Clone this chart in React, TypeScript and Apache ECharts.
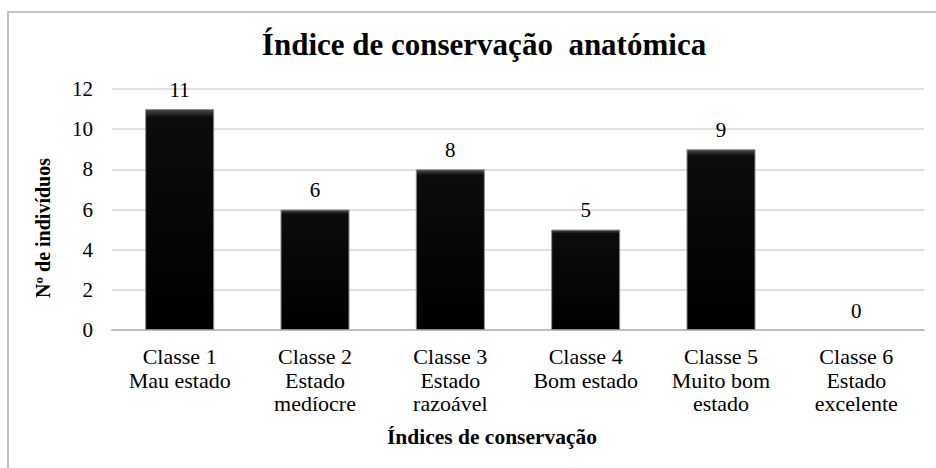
import React, { useEffect, useRef } from "react";
import * as echarts from "echarts";

const categories = [
  "Classe 1\nMau estado",
  "Classe 2\nEstado\nmedíocre",
  "Classe 3\nEstado\nrazoável",
  "Classe 4\nBom estado",
  "Classe 5\nMuito bom\nestado",
  "Classe 6\nEstado\nexcelente",
];
const values = [11, 6, 8, 5, 9, 0];
const titleText = "Índice de conservação  anatómica";
const yName = "Nº de indivíduos";
const xName = "Índices de conservação";

const SERIF = "Liberation Serif";

export default function App() {
  const ref = useRef<HTMLDivElement>(null);
  useEffect(() => {
    document.body.style.margin = "0";
    const chart = echarts.init(ref.current!, null, { renderer: "svg" });
    chart.setOption({
      animation: false,
      backgroundColor: "#ffffff",
      textStyle: { fontFamily: SERIF, color: "#000" },
      title: {
        text: titleText,
        left: 479,
        textAlign: "center",
        top: 24,
        textStyle: { fontFamily: SERIF, fontSize: 31, fontWeight: "bold", color: "#000" },
      },
      graphic: [
        {
          type: "line",
          shape: { x1: 7, y1: 12, x2: 936, y2: 12 },
          style: { stroke: "#c4c4c4", lineWidth: 2 },
          silent: true,
        },
        {
          type: "line",
          shape: { x1: 8, y1: 12, x2: 8, y2: 468 },
          style: { stroke: "#c4c4c4", lineWidth: 2 },
          silent: true,
        },
        {
          type: "text",
          x: 492,
          y: 437,
          style: {
            text: xName,
            fontFamily: SERIF,
            fontSize: 21.5,
            fontWeight: "bold",
            fill: "#000",
            align: "center",
            verticalAlign: "middle",
          },
        },
        {
          type: "text",
          x: 43,
          y: 228,
          rotation: Math.PI / 2,
          style: {
            text: yName,
            fontFamily: SERIF,
            fontSize: 20,
            fontWeight: "bold",
            fill: "#000",
            align: "center",
            verticalAlign: "middle",
          },
        },
      ],
      grid: { left: 112, right: 12, top: 89, bottom: 138 },
      xAxis: {
        type: "category",
        data: categories,
        axisLine: { lineStyle: { color: "#bfbfbf", width: 2 } },
        axisTick: { show: false },
        axisLabel: {
          fontFamily: SERIF,
          fontSize: 22,
          color: "#000",
          lineHeight: 23.5,
          margin: 15,
          interval: 0,
        },
      },
      yAxis: {
        type: "value",
        min: 0,
        max: 12,
        interval: 2,
        axisLine: { show: false },
        axisTick: { show: false },
        axisLabel: { fontFamily: SERIF, fontSize: 21, color: "#000", margin: 19 },
        splitLine: { lineStyle: { color: "#d4d4d4", width: 1.5 } },
      },
      series: [
        {
          type: "bar",
          data: values.map((v) => ({
            value: v,
            itemStyle: v === 0 ? { borderWidth: 0 } : {},
          })),
          barWidth: "51%",
          itemStyle: {
            color: new echarts.graphic.LinearGradient(0, 0, 0, 1, [
              { offset: 0, color: "#4a4a4a" },
              { offset: 0.035, color: "#0c0c0c" },
              { offset: 1, color: "#000000" },
            ]),
            borderColor: "#8a8a8a",
            borderWidth: 1,
          },
          label: {
            show: true,
            position: "top",
            distance: 9,
            fontFamily: SERIF,
            fontSize: 21,
            color: "#000",
          },
        },
      ],
    });
    return () => chart.dispose();
  }, []);
  return <div ref={ref} style={{ width: 936, height: 468 }} />;
}
